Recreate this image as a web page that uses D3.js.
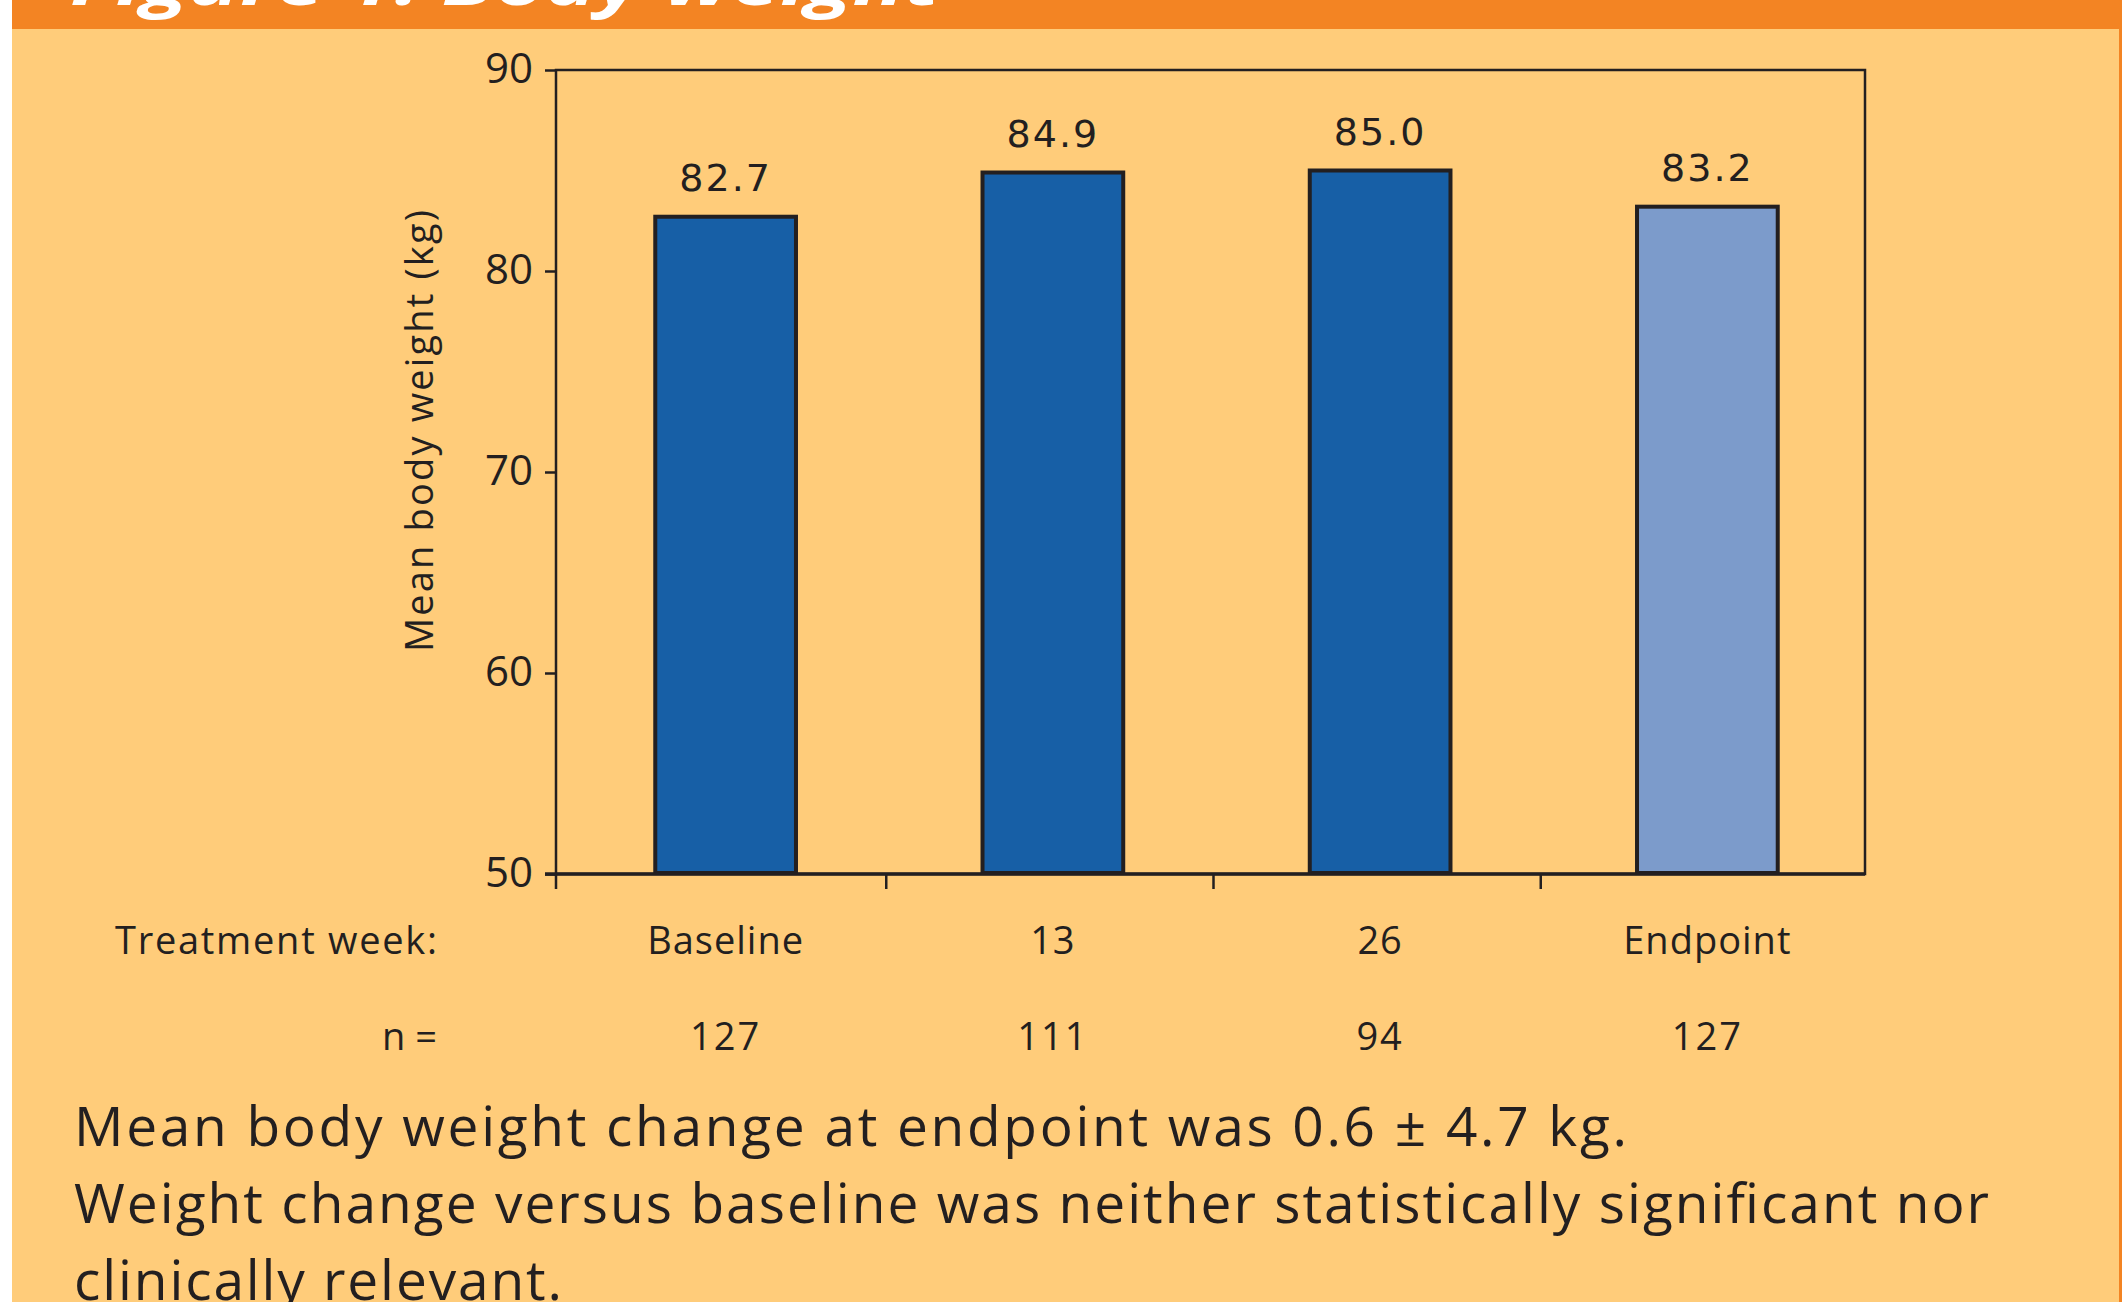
<!DOCTYPE html>
<html>
<head>
<meta charset="utf-8">
<script src="https://cdn.jsdelivr.net/npm/d3@7"></script>
<style>
  html, body { margin: 0; padding: 0; background: #ffffff; }
  svg { display: block; }
</style>
</head>
<body>
<svg id="chart" width="2122" height="1302"></svg>
<script>
// Mean body weight by treatment week
const categories = ["Baseline", "13", "26", "Endpoint"];
const meanWeight = [82.7, 84.9, 85.0, 83.2];
const sampleSize = [127, 111, 94, 127];
const yTicks = [50, 60, 70, 80, 90];
const titleText = "Figure 1: Body weight";
const yAxisTitle = "Mean body weight (kg)";
const rowLabelWeek = "Treatment week:";
const rowLabelN = "n =";
const notes = [
  "Mean body weight change at endpoint was 0.6 ± 4.7 kg.",
  "Weight change versus baseline was neither statistically significant nor",
  "clinically relevant."
];

const W = 2122, H = 1302;
const PANEL = "#FFCC7A", BANNER = "#F38423", INK = "#231F20";
const DARK_BAR = "#175FA6", LIGHT_BAR = "#7C9BCB";
const LABEL_FONT = "'Open Sans', 'Noto Sans', sans-serif";
const VALUE_FONT = "'DejaVu Sans', sans-serif";

const svg = d3.select("#chart");

// panel background, white margin on the left, banner across the top
svg.append("rect").attr("x", 0).attr("y", 0).attr("width", W).attr("height", H).attr("fill", "#ffffff");
svg.append("rect").attr("x", 12).attr("y", 0).attr("width", W - 12).attr("height", H).attr("fill", PANEL);
svg.append("rect").attr("x", W - 3).attr("y", 0).attr("width", 3).attr("height", H).attr("fill", BANNER);
svg.append("rect").attr("x", 12).attr("y", 0).attr("width", W - 12).attr("height", 29).attr("fill", BANNER);
svg.append("text")
  .attr("x", 70).attr("y", 5)
  .attr("fill", "#ffffff")
  .attr("font-family", LABEL_FONT)
  .attr("font-weight", 700).attr("font-style", "italic")
  .attr("font-size", 62)
  .attr("textLength", 870).attr("lengthAdjust", "spacingAndGlyphs")
  .text(titleText);

// plot area
const plot = { left: 556, right: 1865, top: 70, bottom: 874 };

const data = categories.map((c, i) => ({ category: c, value: meanWeight[i], n: sampleSize[i] }));

// category bands sit slightly right of the frame edges
const x = d3.scaleBand()
  .domain(categories)
  .range([plot.left + 6, plot.right + 6])
  .paddingInner(0.57)
  .paddingOuter(0.285);

const y = d3.scaleLinear()
  .domain([d3.min(yTicks), d3.max(yTicks)])
  .range([plot.bottom, plot.top]);

// bars
svg.append("g").selectAll("rect")
  .data(data)
  .join("rect")
  .attr("x", d => x(d.category))
  .attr("y", d => y(d.value))
  .attr("width", x.bandwidth())
  .attr("height", d => y(d3.min(yTicks)) - y(d.value) - 1)
  .attr("fill", d => d.category === "Endpoint" ? LIGHT_BAR : DARK_BAR)
  .attr("stroke", INK)
  .attr("stroke-width", 4);

// value labels
svg.append("g").selectAll("text")
  .data(data)
  .join("text")
  .attr("x", d => x(d.category) + x.bandwidth() / 2)
  .attr("y", d => y(d.value) - 26)
  .attr("text-anchor", "middle")
  .attr("font-family", VALUE_FONT)
  .attr("font-size", 38)
  .attr("letter-spacing", 2)
  .attr("fill", INK)
  .text(d => d.value.toFixed(1));

// y axis
const yAxis = svg.append("g")
  .attr("transform", `translate(${plot.left},0)`)
  .call(d3.axisLeft(y).tickValues(yTicks).tickSize(11).tickSizeOuter(0).tickPadding(12));
yAxis.select(".domain").remove();
yAxis.selectAll(".tick line").attr("stroke", INK).attr("stroke-width", 2.5);
yAxis.selectAll(".tick text")
  .attr("font-family", LABEL_FONT)
  .attr("font-size", 42)
  .attr("fill", INK)
  .attr("dy", "0.3em");

// frame around the plot
svg.append("rect")
  .attr("x", plot.left).attr("y", plot.top)
  .attr("width", plot.right - plot.left).attr("height", plot.bottom - plot.top)
  .attr("fill", "none").attr("stroke", INK).attr("stroke-width", 2.5);
svg.append("line")
  .attr("x1", plot.left - 11).attr("x2", plot.right)
  .attr("y1", plot.bottom).attr("y2", plot.bottom)
  .attr("stroke", INK).attr("stroke-width", 3.5);

// x ticks: the axis origin plus the boundaries between categories
const gap = x.step() * x.paddingInner() / 2;
const tickXs = [plot.left].concat(categories.slice(1).map(c => x(c) - gap - 3));
svg.append("g").selectAll("line")
  .data(tickXs)
  .join("line")
  .attr("x1", d => d).attr("x2", d => d)
  .attr("y1", plot.bottom).attr("y2", plot.bottom + 15)
  .attr("stroke", INK).attr("stroke-width", 2.5);

// y axis title
svg.append("text")
  .attr("transform", `translate(433,${(plot.top + plot.bottom) / 2 - 41}) rotate(-90)`)
  .attr("text-anchor", "middle")
  .attr("font-family", LABEL_FONT)
  .attr("font-size", 38)
  .attr("fill", INK)
  .attr("textLength", 442).attr("lengthAdjust", "spacing")
  .text(yAxisTitle);

// category and sample size rows
const rowWeekY = 954, rowNY = 1050;
svg.append("text")
  .attr("x", 437).attr("y", rowWeekY)
  .attr("text-anchor", "end")
  .attr("font-family", LABEL_FONT).attr("font-size", 38).attr("fill", INK)
  .attr("textLength", 322).attr("lengthAdjust", "spacing")
  .text(rowLabelWeek);
svg.append("text")
  .attr("x", 437).attr("y", rowNY)
  .attr("text-anchor", "end")
  .attr("font-family", LABEL_FONT).attr("font-size", 38).attr("fill", INK)
  .text(rowLabelN);

svg.append("g").selectAll("text")
  .data(data)
  .join("text")
  .attr("x", d => x(d.category) + x.bandwidth() / 2)
  .attr("y", rowWeekY)
  .attr("text-anchor", "middle")
  .attr("font-family", LABEL_FONT).attr("font-size", 38).attr("fill", INK)
  .attr("letter-spacing", 1)
  .text(d => d.category);

svg.append("g").selectAll("text")
  .data(data)
  .join("text")
  .attr("x", d => x(d.category) + x.bandwidth() / 2)
  .attr("y", rowNY)
  .attr("text-anchor", "middle")
  .attr("font-family", LABEL_FONT).attr("font-size", 38).attr("fill", INK)
  .attr("letter-spacing", 2)
  .text(d => d.n);

// summary notes
const noteWidths = [1553, 1915, 488];
svg.append("g").selectAll("text")
  .data(notes)
  .join("text")
  .attr("x", 74)
  .attr("y", (d, i) => 1146 + i * 77)
  .attr("font-family", LABEL_FONT).attr("font-size", 55).attr("fill", INK)
  .attr("textLength", (d, i) => noteWidths[i])
  .attr("lengthAdjust", "spacing")
  .text(d => d);
</script>
</body>
</html>
